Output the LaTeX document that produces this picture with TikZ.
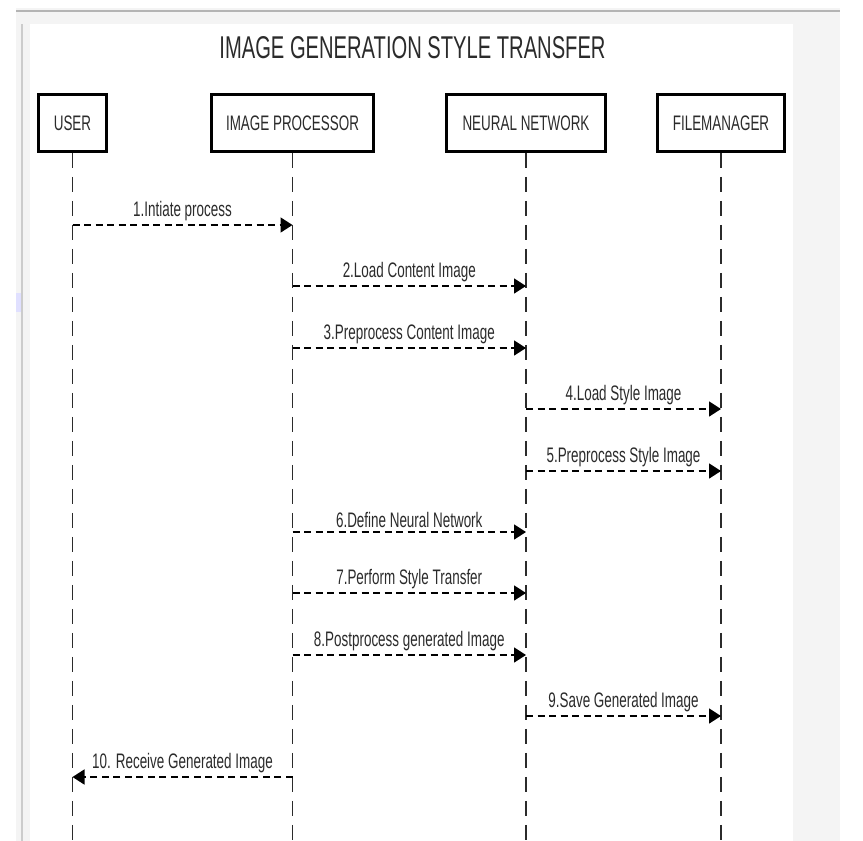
\documentclass[tikz,border=0pt]{standalone}
\usepackage{fontspec}
\setmainfont{Liberation Sans}[FakeStretch=0.64]
\usetikzlibrary{arrows.meta}
\definecolor{panelgray}{HTML}{F4F4F4}
\definecolor{edgegray}{HTML}{B4B4B4}
\definecolor{inkgray}{HTML}{2B2B2B}
\begin{document}
\begin{tikzpicture}[x=1pt, y=-1pt,
	actor/.style={draw, line width=2.6pt, minimum height=57pt, font=\fontsize{21}{25}\selectfont, text=inkgray},
	life/.style={dash pattern=on 15pt off 9pt, line width=1.4pt, inkgray},
	msg/.style={dash pattern=on 7pt off 4.5pt, line width=1.7pt, -{Triangle[length=12pt, width=15pt]}},
	lbl/.style={above, inner sep=3pt, font=\fontsize{21}{25}\selectfont, text=inkgray}]
	\useasboundingbox (0,0) rectangle (863,841);
	\fill[panelgray] (16,8) rectangle (840,841);
	\fill[white] (30,24) rectangle (793,841);
	\draw[edgegray, line width=1.5pt] (16,11) -- (840,11);
	\fill[black!20] (21,24) rectangle (23,841);
	\fill[blue!12] (16,293) rectangle (21,312);
	\node[font=\fontsize{31.5}{38}\selectfont, text=inkgray] (title) at (412.5,48) {IMAGE GENERATION STYLE TRANSFER};
	\node[actor, minimum width=68pt] (user) at (72.5,123) {USER};
	\node[actor, minimum width=162pt] (proc) at (292.5,123) {IMAGE PROCESSOR};
	\node[actor, minimum width=159pt] (net) at (526,123) {NEURAL NETWORK};
	\node[actor, minimum width=127pt] (fm) at (721,123) {FILEMANAGER};
	\coordinate (bot) at (0,841);
	\foreach \n in {user, proc, net, fm}
		\draw[life] (\n.south) -- (\n |- bot);
	\foreach \y/\a/\b/\t in {225/user/proc/{1.Intiate process}, 286/proc/net/{2.Load Content Image},
			348/proc/net/{3.Preprocess Content Image}, 409/net/fm/{4.Load Style Image},
			471/net/fm/{5.Preprocess Style Image}, 532/proc/net/{6.Define Neural Network},
			593/proc/net/{7.Perform Style Transfer}, 655/proc/net/{8.Postprocess generated Image},
			716/net/fm/{9.Save Generated Image}, 777/proc/user/{10. Receive Generated Image}}
		\draw[msg] (\a |- 0,\y) -- node[lbl] {\t} (\b |- 0,\y);
\end{tikzpicture}
\end{document}
